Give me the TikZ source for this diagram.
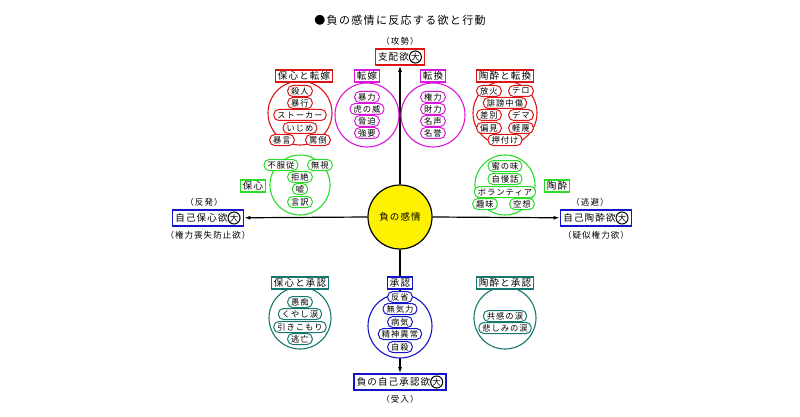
\documentclass[tikz,border=0pt]{standalone}
\usepackage{fontspec}
\setmainfont{Noto Sans CJK JP}[LetterSpace=12]
\usetikzlibrary{arrows.meta}
\definecolor{cred}{RGB}{220,20,20}
\definecolor{cmag}{RGB}{220,20,220}
\definecolor{cgrn}{RGB}{40,220,40}
\definecolor{cblu}{RGB}{20,20,200}
\definecolor{cteal}{RGB}{20,120,110}
\tikzset{
 lab/.style={draw=#1,line width=1.6pt,fill=white,inner xsep=2.5pt,inner ysep=1.5pt,font=\fontsize{9.5}{10}\selectfont},
 grp/.style={draw=#1,line width=1.1pt,circle,minimum size=64pt,inner sep=0pt},
 pill/.style={draw=#1,line width=1pt,fill=white,rounded corners=5pt,inner xsep=3.5pt,inner ysep=0pt,minimum height=11pt,font=\fontsize{8.3}{8.5}\selectfont},
 big/.style={draw=cblu,line width=1.6pt,fill=white,inner xsep=3pt,inner ysep=1.5pt,font=\fontsize{9.5}{10}\selectfont},
 note/.style={font=\fontsize{8.5}{9}\selectfont},
 arr/.style={line width=1.2pt,-{Latex[length=6pt,width=4pt]}},
}
\newcommand{\dai}{\tikz[baseline=-0.6ex]\node[circle,draw,line width=1pt,inner sep=0.2pt,font=\fontsize{8.5}{9}\selectfont]{大};}
\begin{document}
\begin{tikzpicture}[x=1pt,y=-1pt]
\useasboundingbox[fill=white] (0,0) rectangle (800,417);
\node[font=\fontsize{11}{12}\selectfont] (title) at (400,20) {●負の感情に反応する欲と行動};
% center
\node[circle,draw,fill=yellow,line width=1.2pt,minimum size=64pt,font=\fontsize{9.5}{10}\selectfont] (c) at (400,217) {負の感情};
\node[lab=cred] (top) at (400,57) {支配欲\dai};
\node[note] (topn) at (400,41) {（攻勢）};
\node[big] (left) at (208,218) {自己保心欲\dai};
\node[note] (leftn) at (204,202) {（反発）};
\node[note] (leftn2) at (208,235) {（権力喪失防止欲）};
\node[big] (right) at (596,218) {自己陶酔欲\dai};
\node[note] (rightn) at (590,202) {（逃避）};
\node[note] (rightn2) at (596,235) {（疑似権力欲）};
\node[big] (bot) at (400,382) {負の自己承認欲\dai};
\node[note] (botn) at (400,399) {（受入）};
\draw[arr] (c) -- (top);
\draw[arr] (c.west) -- (left);
\draw[arr] (c.east) -- (right);
\draw[arr] (c) -- (bot);
% top-left red
\node[grp=cred] (g1) at (300,113) {};
\node[lab=cred] (l1) at (304,76) {保心と転嫁};
\node[pill=cred] (a1) at (300,91) {殺人};
\node[pill=cred] (a2) at (300,103) {暴行};
\node[pill=cred] (a3) at (300,115) {ストーカー};
\node[pill=cred] (a4) at (300,128) {いじめ};
\node[pill=cred] (a5) at (282,140) {暴言};
\node[pill=cred] (a6) at (318,140) {罵倒};
% magenta
\node[grp=cmag] (g2) at (367,115) {};
\node[lab=cmag] (l2) at (367,76) {転嫁};
\node[pill=cmag] (b1) at (367,97) {暴力};
\node[pill=cmag] (b2) at (367,109) {虎の威};
\node[pill=cmag] (b3) at (367,121) {脅迫};
\node[pill=cmag] (b4) at (367,133) {強要};
\node[grp=cmag] (g3) at (433,115) {};
\node[lab=cmag] (l3) at (433,76) {転換};
\node[pill=cmag] (d1) at (433,97) {権力};
\node[pill=cmag] (d2) at (433,109) {財力};
\node[pill=cmag] (d3) at (433,121) {名声};
\node[pill=cmag] (d4) at (433,133) {名誉};
% top-right red
\node[grp=cred] (g4) at (505,113) {};
\node[lab=cred] (l4) at (505,76) {陶酔と転換};
\node[pill=cred] (e1) at (489,91) {放火};
\node[pill=cred] (e2) at (521,91) {テロ};
\node[pill=cred] (e3) at (505,103) {誹謗中傷};
\node[pill=cred] (e4) at (489,115) {差別};
\node[pill=cred] (e5) at (521,115) {デマ};
\node[pill=cred] (e6) at (489,128) {偏見};
\node[pill=cred] (e7) at (521,128) {軽蔑};
\node[pill=cred] (e8) at (505,140) {押付け};
% green left
\node[grp=cgrn,minimum size=60pt] (g5) at (300,185) {};
\node[lab=cgrn] (l5) at (253,186) {保心};
\node[pill=cgrn] (f1) at (281,165) {不服従};
\node[pill=cgrn] (f2) at (320,165) {無視};
\node[pill=cgrn] (f3) at (300,177) {拒絶};
\node[pill=cgrn] (f4) at (300,189) {嘘};
\node[pill=cgrn] (f5) at (300,202) {言訳};
% green right
\node[grp=cgrn,minimum size=60pt] (g6) at (505,185) {};
\node[lab=cgrn] (l6) at (557,186) {陶酔};
\node[pill=cgrn] (h1) at (505,166) {蜜の味};
\node[pill=cgrn] (h2) at (505,179) {自慢話};
\node[pill=cgrn] (h3) at (505,192) {ボランティア};
\node[pill=cgrn] (h4) at (485,204) {趣味};
\node[pill=cgrn] (h5) at (522,204) {空想};
% bottom teal left
\node[grp=cteal,minimum size=62pt] (g7) at (300,318) {};
\node[lab=cteal] (l7) at (300,283) {保心と承認};
\node[pill=cteal] (i1) at (300,302) {愚痴};
\node[pill=cteal] (i2) at (300,314) {くやし涙};
\node[pill=cteal] (i3) at (300,327) {引きこもり};
\node[pill=cteal] (i4) at (300,339) {逃亡};
% blue
\node[grp=cblu,fill=white] (g8) at (400,326) {};
\node[lab=cblu] (l8) at (400,283) {承認};
\node[pill=cblu] (j1) at (400,297) {反省};
\node[pill=cblu] (j2) at (400,309) {無気力};
\node[pill=cblu] (j3) at (400,322) {病気};
\node[pill=cblu] (j4) at (400,334) {精神異常};
\node[pill=cblu] (j5) at (400,347) {自殺};
% teal right
\node[grp=cteal,minimum size=62pt] (g9) at (505,318) {};
\node[lab=cteal] (l9) at (505,283) {陶酔と承認};
\node[pill=cteal] (k1) at (505,316) {共感の涙};
\node[pill=cteal] (k2) at (505,328) {悲しみの涙};
\end{tikzpicture}
\end{document}
